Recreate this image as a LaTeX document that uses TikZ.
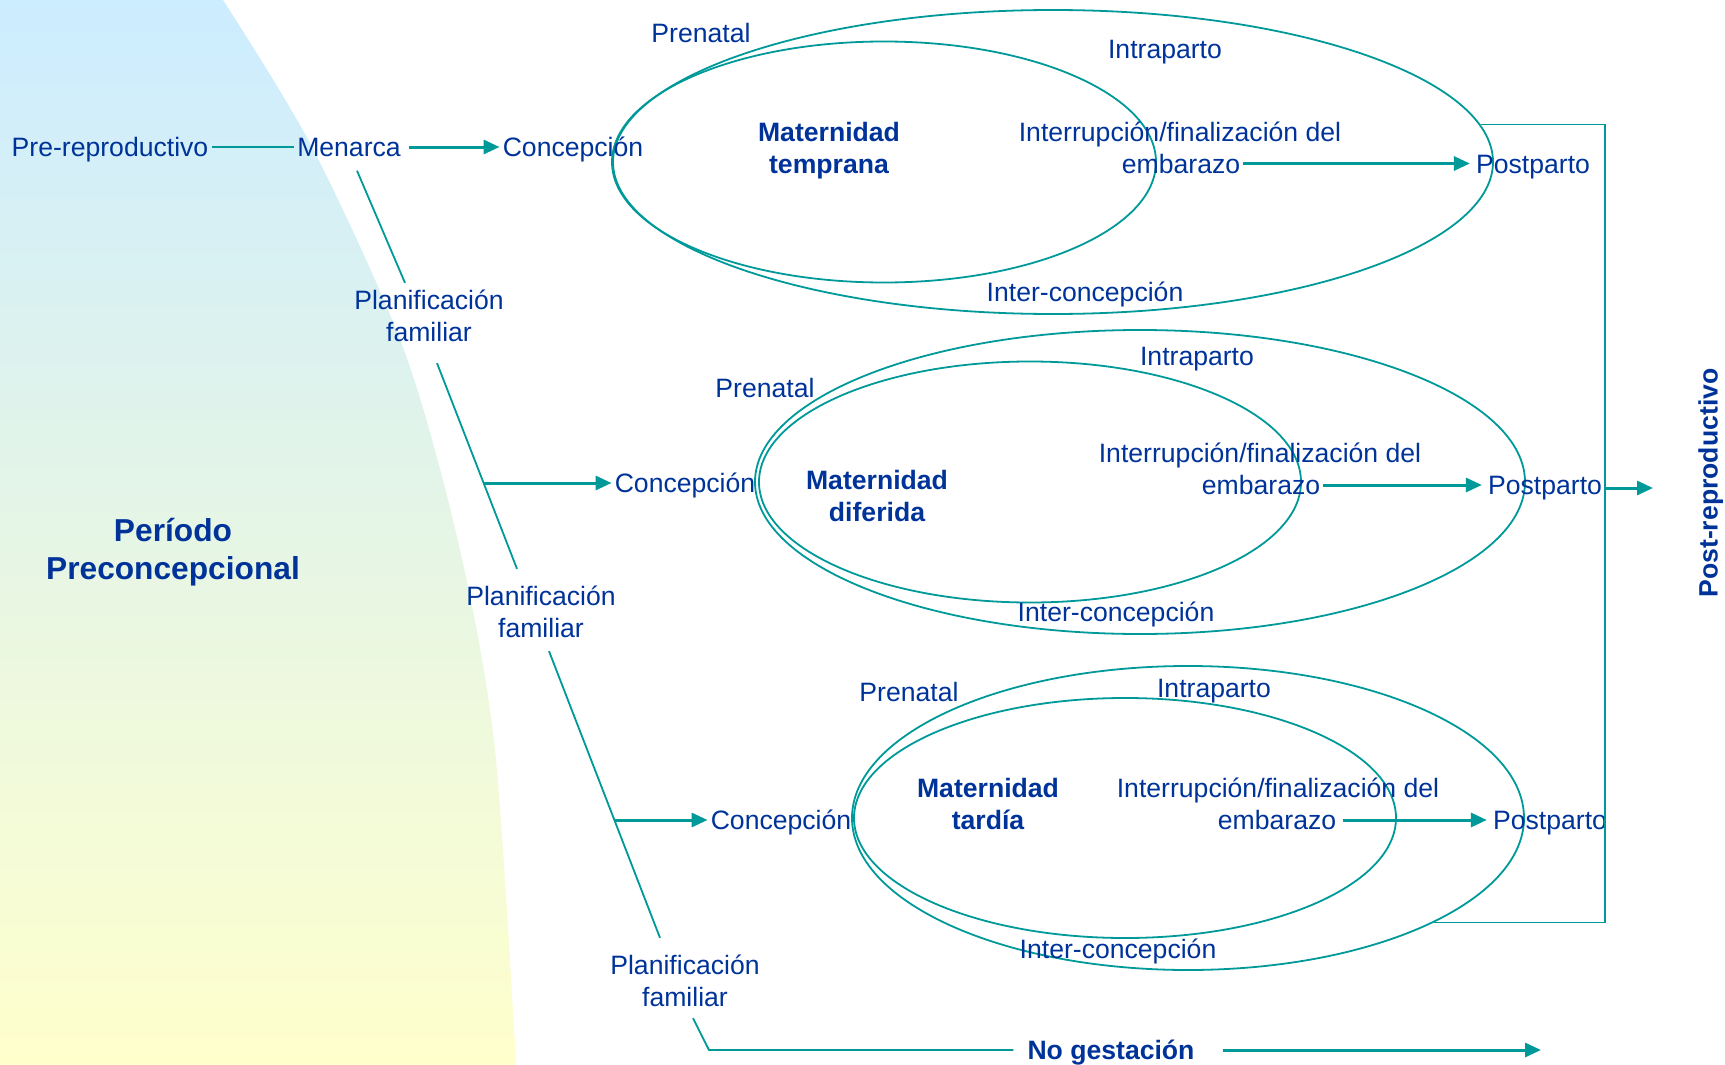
\documentclass[tikz,border=0pt]{standalone}
\usepackage{fontspec}
\setmainfont{Liberation Sans}
\usetikzlibrary{arrows.meta,shapes.geometric,calc}
\definecolor{txtblue}{RGB}{0,51,153}
\definecolor{tealc}{RGB}{0,153,153}
\definecolor{bgtop}{RGB}{204,236,255}
\definecolor{bgbot}{RGB}{255,255,204}
\begin{document}
\begin{tikzpicture}[x=1pt,y=-1pt,
  lbl/.style={font=\fontsize{26.6}{32}\selectfont, text=txtblue, inner sep=3pt, text height=19pt, text depth=0pt},
  lblb/.style={lbl, font=\fontsize{26.6}{32}\selectfont\bfseries},
  mlbl/.style={font=\fontsize{26.6}{32}\selectfont, text=txtblue, inner sep=3pt, align=center},
  mlblb/.style={mlbl, font=\fontsize{26.6}{32}\selectfont\bfseries},
  ring/.style={draw=tealc, line width=1.8pt, ellipse, inner sep=0pt},
  conn/.style={draw=tealc, line width=1.8pt},
  arr/.style={draw=tealc, line width=3pt, -{Triangle[length=16pt,width=14pt]}}
]
\useasboundingbox (0,0) rectangle (1725,1065);
% background region
\shade[top color=bgtop, bottom color=bgbot] (0,0) -- plot[smooth] coordinates {(223,0) (312,147) (404,350) (460,550) (495,750) (516,1065)} -- (0,1065) -- cycle;

% ellipses
\node[ring, minimum width=880pt, minimum height=304pt] (e1) at (1053,162) {};
\node[ring, minimum width=544pt, minimum height=241pt] (i1) at (884,162) {};
\node[ring, minimum width=770pt, minimum height=304pt] (e2) at (1140,482) {};
\node[ring, minimum width=542pt, minimum height=241pt] (i2) at (1030,482) {};
\node[ring, minimum width=672pt, minimum height=304pt] (e3) at (1188,818) {};
\node[ring, minimum width=542pt, minimum height=240pt] (i3) at (1125,818) {};

% left labels
\node[lbl] (pre) at (110,147) {Pre-reproductivo};
\node[lbl] (men) at (349,147) {Menarca};
\node[lbl] (c1) at (573,147) {Concepción};
\node[mlbl] (pf1) at (429,316) {Planificación\\familiar};
\node[lbl] (c2) at (685,483) {Concepción};
\node[mlbl] (pf2) at (541,612) {Planificación\\familiar};
\node[lbl] (c3) at (781,820) {Concepción};
\node[mlbl] (pf3) at (685,981) {Planificación\\familiar};
\node[lblb] (ng) at (1111,1050) {No gestación};
\node[mlblb, font=\fontsize{31.7}{38}\selectfont\bfseries] (per) at (173,552) {Período\\Preconcepcional};
\node[lblb, rotate=90] (postrep) at (1708,483) {Post-reproductivo};

% row 1
\node[lbl] (pn1) at (701,33) {Prenatal};
\node[lbl] (ip1) at (1165,49) {Intraparto};
\node[mlblb] (mt1) at (829,151) {Maternidad\\temprana};
\node[lbl] (int1) at (1180,132) {Interrupción/finalización del};
\node[lbl] (emb1) at (1181,163.5) {embarazo};
\node[lbl] (pp1) at (1533,163.5) {Postparto};
\node[lbl] (ic1) at (1085,292) {Inter-concepción};

% row 2
\node[lbl] (pn2) at (765,388) {Prenatal};
\node[lbl] (ip2) at (1197,356) {Intraparto};
\node[mlblb] (md2) at (877,496) {Maternidad\\diferida};
\node[lbl] (int2) at (1260,453) {Interrupción/finalización del};
\node[lbl] (emb2) at (1261,485) {embarazo};
\node[lbl] (pp2) at (1545,485) {Postparto};
\node[lbl] (ic2) at (1116,612) {Inter-concepción};

% row 3
\node[lbl] (pn3) at (909,692) {Prenatal};
\node[lbl] (ip3) at (1214,688) {Intraparto};
\node[mlblb] (mt3) at (988,804) {Maternidad\\tardía};
\node[lbl] (int3) at (1278,788) {Interrupción/finalización del};
\node[lbl] (emb3) at (1277,820) {embarazo};
\node[lbl] (pp3) at (1550,820) {Postparto};
\node[lbl] (ic3) at (1118,949) {Inter-concepción};

% connectors on the left
\draw[conn] (pre.east) -- (men.west);
\draw[arr, shorten <=5pt] (men.east) -- (c1.west);
\draw[conn] ($(men.south)+(8,11)$) -- ($(pf1.north)+(-24,-4)$);
\draw[conn] ($(pf1.south)+(8,18)$) -- ($(pf2.north)+(-24,-14)$);
\draw[arr] ($(c2.west)+(-128,0)$) -- (c2.west);
\draw[conn] ($(pf2.south)+(8,10)$) -- ($(pf3.north)+(-25,-14)$);
\draw[arr] ($(c3.west)+(-94,0)$) -- (c3.west);
\coordinate (k4) at ($(pf3.south)+(24,0)$);
\draw[conn] ($(pf3.south)+(8,8)$) -- (k4 |- ng.west) -- ([xshift=-11pt]ng.west);
\coordinate (ngend) at (1541,1050);
\draw[arr, shorten <=25pt] (ng.east) -- (ngend);

% arrows to Postparto
\draw[arr, shorten >=3pt] (emb1.east) -- (pp1.west);
\draw[arr, shorten >=3pt] (emb2.east) -- (pp2.west);
\draw[arr, shorten >=3pt, shorten <=4pt] (emb3.east) -- (pp3.west);

% bracket and post-reproductive arrow
\coordinate (brx) at (1605,488);
\coordinate (prend) at (1653,488);
\draw[conn] (e1.5) -| (brx) |- (e3.-23);
\draw[arr] (brx) -- (prend);
\end{tikzpicture}
\end{document}
